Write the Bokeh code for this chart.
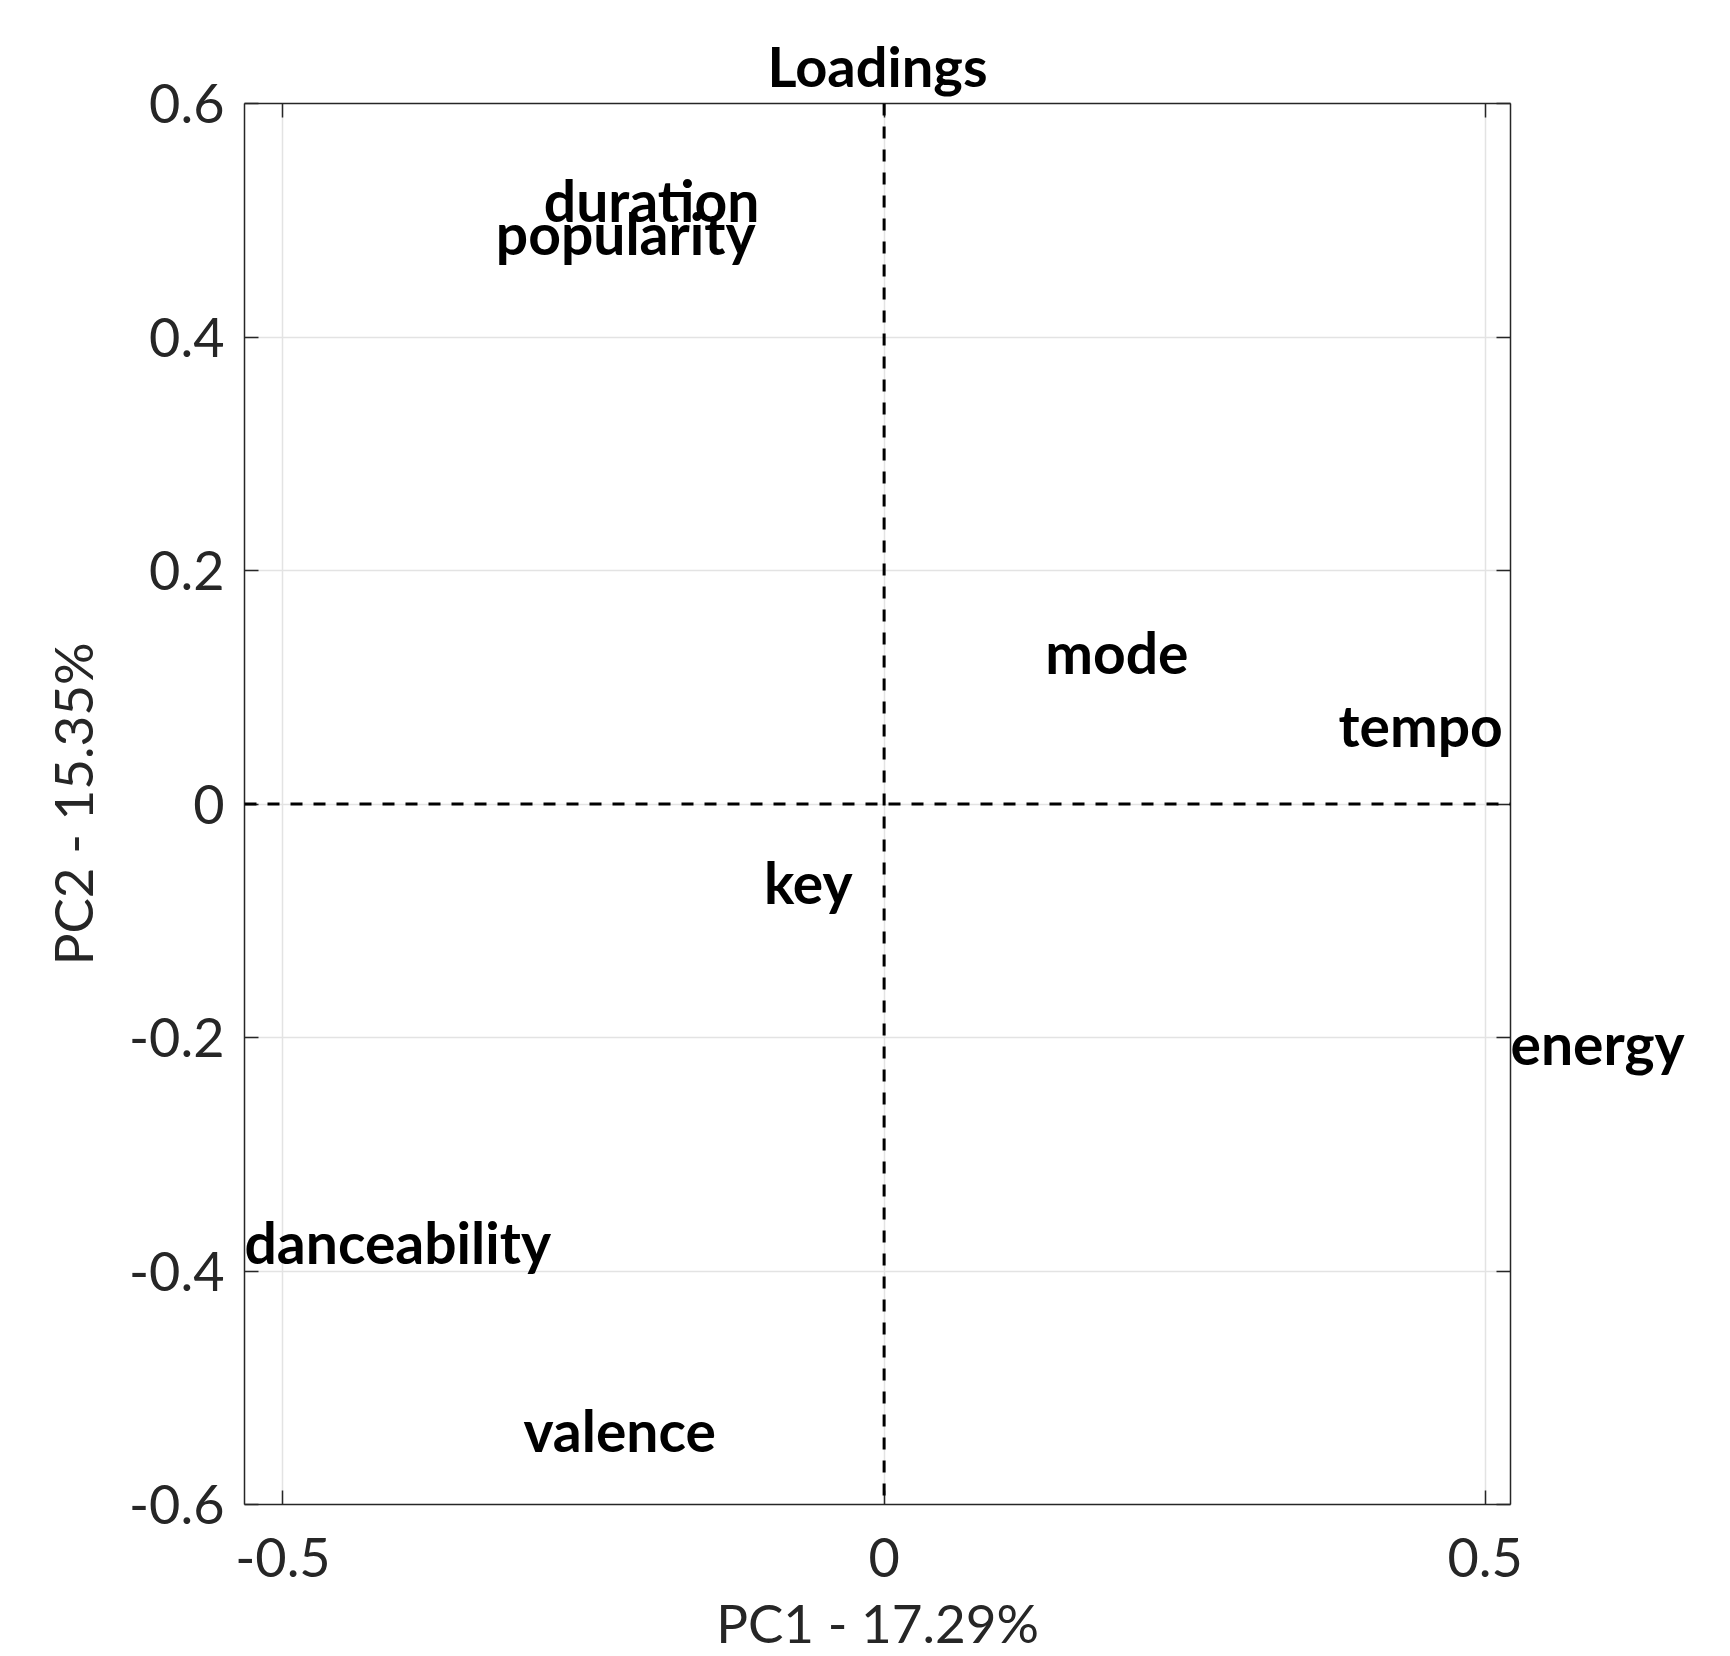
from bokeh.plotting import figure
from bokeh.models import (Range1d, FixedTicker, LinearAxis, Span, Label)
from bokeh.embed import file_html
from bokeh.resources import INLINE

# ---- data ----
labels = ["duration", "popularity", "mode", "tempo", "key", "energy", "danceability", "valence"]
pc1 = [-0.283, -0.323, 0.134, 0.378, -0.100, 0.521, -0.532, -0.300]
pc2 = [0.517, 0.489, 0.130, 0.068, -0.067, -0.205, -0.375, -0.536]
pc1_pct = 17.29
pc2_pct = 15.35
y_lim = [-0.6, 0.6]
x_ticks = [-0.5, 0, 0.5]
x_ticklabels = ["-0.5", "0", "0.5"]
y_ticks = [-0.6, -0.4, -0.2, 0, 0.2, 0.4, 0.6]
y_ticklabels = ["-0.6", "-0.4", "-0.2", "0", "0.2", "0.4", "0.6"]

FONT = "Lato"
AX = "#262626"

W, H = 1730, 1656
# axis tight around the loadings in x
p = figure(width=W, height=H, output_backend="svg", toolbar_location=None,
           x_range=Range1d(min(pc1), max(pc1)), y_range=Range1d(*y_lim),
           min_border_left=244, min_border_right=220, min_border_top=103, min_border_bottom=152,
           x_axis_label=f"PC1 - {pc1_pct:.2f}%", y_axis_label=f"PC2 - {pc2_pct:.2f}%")
p.outline_line_color = None
p.background_fill_color = "white"
p.border_fill_color = "white"

p.title.text = "Loadings"
p.title.align = "center"
p.title.text_font = FONT
p.title.text_font_style = "bold"
p.title.text_font_size = "56px"
p.title.text_color = "black"
p.title.standoff = 10

p.xaxis.ticker = FixedTicker(ticks=x_ticks)
p.yaxis.ticker = FixedTicker(ticks=y_ticks)
p.xaxis.major_label_overrides = dict(zip(x_ticks, x_ticklabels))
p.yaxis.major_label_overrides = dict(zip(y_ticks, y_ticklabels))

for ax in (p.xaxis[0], p.yaxis[0]):
    ax.axis_line_color = AX
    ax.axis_line_width = 1.5
    ax.major_tick_line_color = AX
    ax.major_tick_line_width = 1.5
    ax.major_tick_in = 14
    ax.major_tick_out = 0
    ax.minor_tick_line_color = None
    ax.major_label_text_font = FONT
    ax.major_label_text_font_size = "54px"
    ax.major_label_text_color = AX
    ax.axis_label_text_font = FONT
    ax.axis_label_text_font_size = "53px"
    ax.axis_label_text_font_style = "normal"
    ax.axis_label_text_color = AX

p.xaxis.major_label_standoff = 33
p.xaxis.axis_label_standoff = 11
p.yaxis.major_label_standoff = 20
p.yaxis.axis_label_standoff = 22

# box axes on top and right (ticks only)
top = LinearAxis(ticker=FixedTicker(ticks=x_ticks), major_label_text_color=None,
                 axis_line_color=AX, axis_line_width=1.5, major_tick_line_color=AX,
                 major_tick_line_width=1.5, major_tick_in=14, major_tick_out=0,
                 minor_tick_line_color=None, major_label_text_font_size="1px")
right = LinearAxis(ticker=FixedTicker(ticks=y_ticks), major_label_text_color=None,
                   axis_line_color=AX, axis_line_width=1.5, major_tick_line_color=AX,
                   major_tick_line_width=1.5, major_tick_in=14, major_tick_out=0,
                   minor_tick_line_color=None, major_label_text_font_size="1px")
p.add_layout(top, "above")
p.add_layout(right, "right")

p.xgrid.ticker = FixedTicker(ticks=x_ticks)
p.ygrid.ticker = FixedTicker(ticks=y_ticks)
p.grid.grid_line_color = "#e3e3e3"
p.grid.grid_line_width = 1.5

p.add_layout(Span(location=0, dimension="height", line_color="black", line_width=3, line_dash="12 11"))
p.add_layout(Span(location=0, dimension="width", line_color="black", line_width=3, line_dash="12 11"))

# loading labels (the one sitting on the right edge goes in the right panel so it is not clipped)
xmax = max(pc1)
for name, x, y in zip(labels, pc1, pc2):
    lab = Label(x=x, y=y, text=name, text_font=FONT, text_font_style="bold",
                text_font_size="57px", text_color="black",
                text_align="left", text_baseline="middle")
    p.add_layout(lab, "right" if x >= xmax else "center")

open("out.html", "w").write(file_html(p, INLINE))
